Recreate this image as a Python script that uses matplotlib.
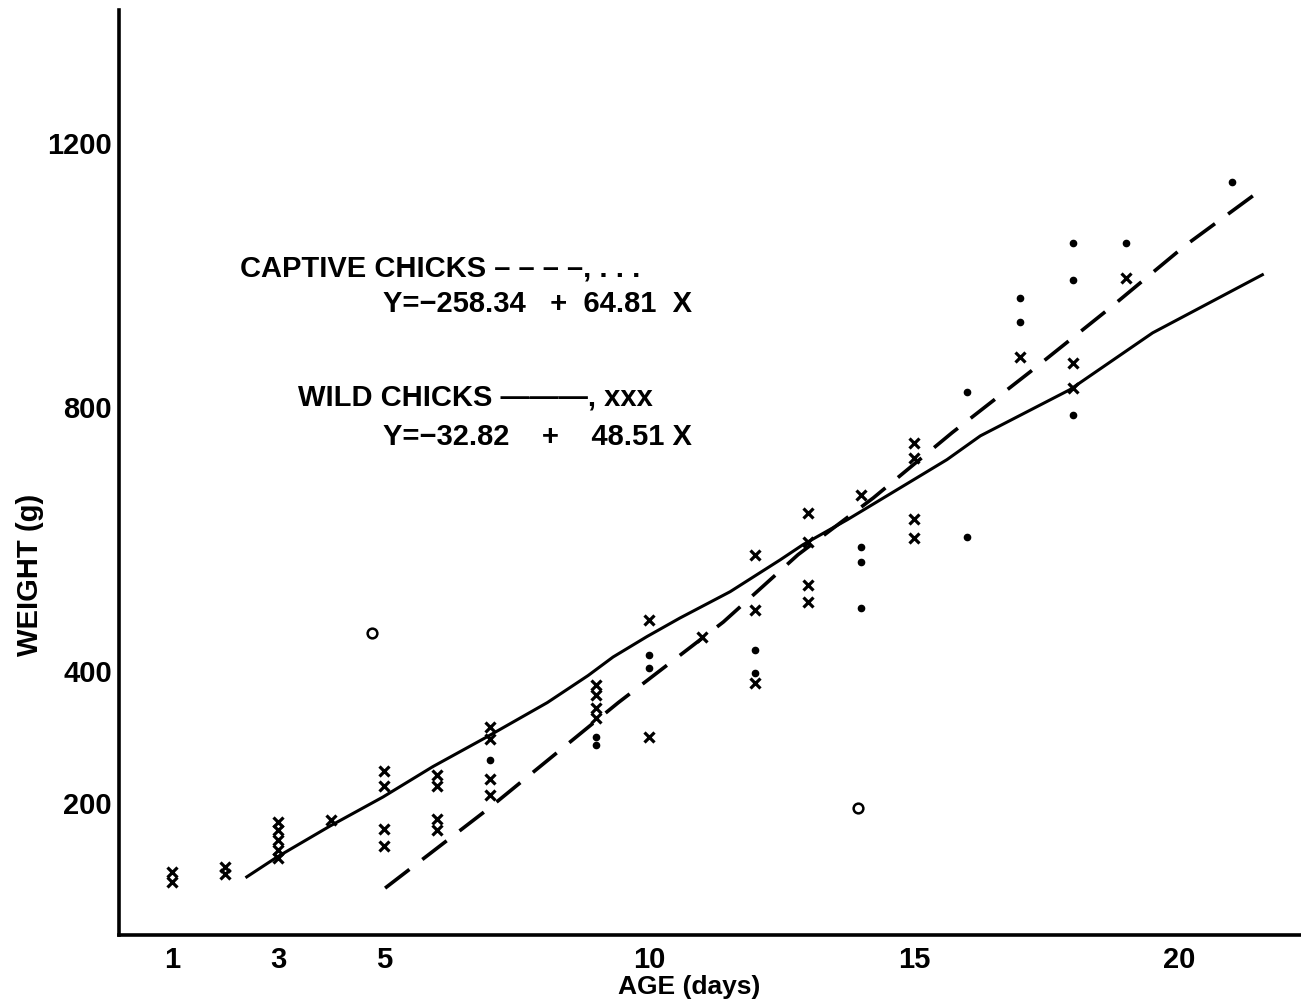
import numpy as np
import matplotlib.pyplot as plt

plt.rcParams['font.family'] = ['Liberation Sans', 'DejaVu Sans']
plt.rcParams['font.weight'] = 'bold'

# wild chicks, fitted line (solid)
wild_line_x = [2.41, 2.98, 3.98, 4.98, 5.92, 6.94, 8.08, 8.85, 9.32, 9.96, 10.58,
               11.53, 12.47, 12.9, 13.74, 14.36, 14.98, 15.62, 16.25, 17.94, 19.5, 21.57]
wild_line_y = [88, 118, 165, 209, 255, 300, 352, 393, 421, 452, 480,
               520, 568, 591, 629, 659, 689, 720, 756, 826, 912, 1000]

# captive chicks, fitted line (dashed)
captive_line_x = [5.02, 6.98, 9.42, 11.4, 12.81, 14.23, 15.72, 17.19, 18.7, 20.11, 21.62]
captive_line_y = [71, 192, 352, 474, 576, 662, 761, 853, 950, 1044, 1133]

# wild chicks, individual weights (x)
wild_age = [1, 1, 2, 2, 3, 3, 3, 3, 3, 4, 5, 5, 5, 5, 6, 6, 6, 6, 7, 7, 7, 7,
            9, 9, 9, 9, 10, 10, 11, 12, 12, 12, 13, 13, 13, 13, 14,
            15, 15, 15, 15, 17, 18, 18, 19]
wild_weight = [80, 95, 93, 103, 117, 129, 144, 159, 171, 174, 135, 160, 226, 248,
               159, 176, 225, 242, 212, 236, 297, 315,
               329, 344, 364, 379, 300, 477, 451, 382, 492, 576, 505, 530, 595, 639, 667,
               602, 630, 722, 745, 876, 829, 867, 995]

# captive chicks, individual weights (dots)
captive_age = [7, 9, 9, 10, 10, 12, 12, 14, 14, 14, 16, 16, 17, 17, 18, 18, 18, 19, 21]
captive_weight = [265, 300, 288, 424, 405, 432, 397, 588, 565, 495, 603, 823,
                  965, 929, 1048, 992, 788, 1048, 1141]

# odd open circles
circle_age = [4.77, 13.94]
circle_weight = [458, 192]

xticks = [1, 3, 5, 10, 15, 20]
yticks = [200, 400, 800, 1200]

fig = plt.figure(figsize=(13.01, 10.06), dpi=100)
ax = fig.add_axes([119 / 1301, 71 / 1006, 1181 / 1301, 925 / 1006])

ax.plot(wild_line_x, wild_line_y, color='black', lw=2.2)
ax.plot(captive_line_x, captive_line_y, color='black', lw=2.6, dashes=(8.5, 4.5))
ax.plot(wild_age, wild_weight, 'x', color='black', ms=7, mew=2.3)
ax.plot(captive_age, captive_weight, 'o', color='black', ms=4.5)
ax.plot(circle_age, circle_weight, 'o', mfc='white', mec='black', ms=7, mew=1.8)

ax.set_xlim(0, 22.28)
ax.set_ylim(0, 1401)
ax.set_xticks(xticks)
ax.set_yticks(yticks)
ax.tick_params(axis='both', length=0, labelsize=21)
ax.tick_params(axis='x', pad=8)
ax.tick_params(axis='y', pad=5)

for s in ['top', 'right']:
    ax.spines[s].set_visible(False)
for s in ['left', 'bottom']:
    ax.spines[s].set_linewidth(2.6)

ax.text(-0.0754, 0.389, 'WEIGHT (g)', transform=ax.transAxes, rotation=90,
        ha='center', va='center', fontsize=21, fontweight='bold')
ax.text(0.483, -0.056, 'AGE (days)', transform=ax.transAxes,
        ha='center', va='center', fontsize=19, fontweight='bold')

# legend written as text, like the original
ax.text(2.28, 1010, 'CAPTIVE CHICKS \u2013 \u2013 \u2013 \u2013, . . .', ha='left', va='center', fontsize=21)
ax.text(4.98, 955, 'Y=\u2212258.34   +  64.81  X', ha='left', va='center', fontsize=21)
ax.text(3.38, 814, 'WILD CHICKS \u2014\u2014\u2014, xxx', ha='left', va='center', fontsize=21)
ax.text(4.98, 755, 'Y=\u221232.82    +    48.51 X', ha='left', va='center', fontsize=21)

fig.savefig('out.png', dpi=100)
